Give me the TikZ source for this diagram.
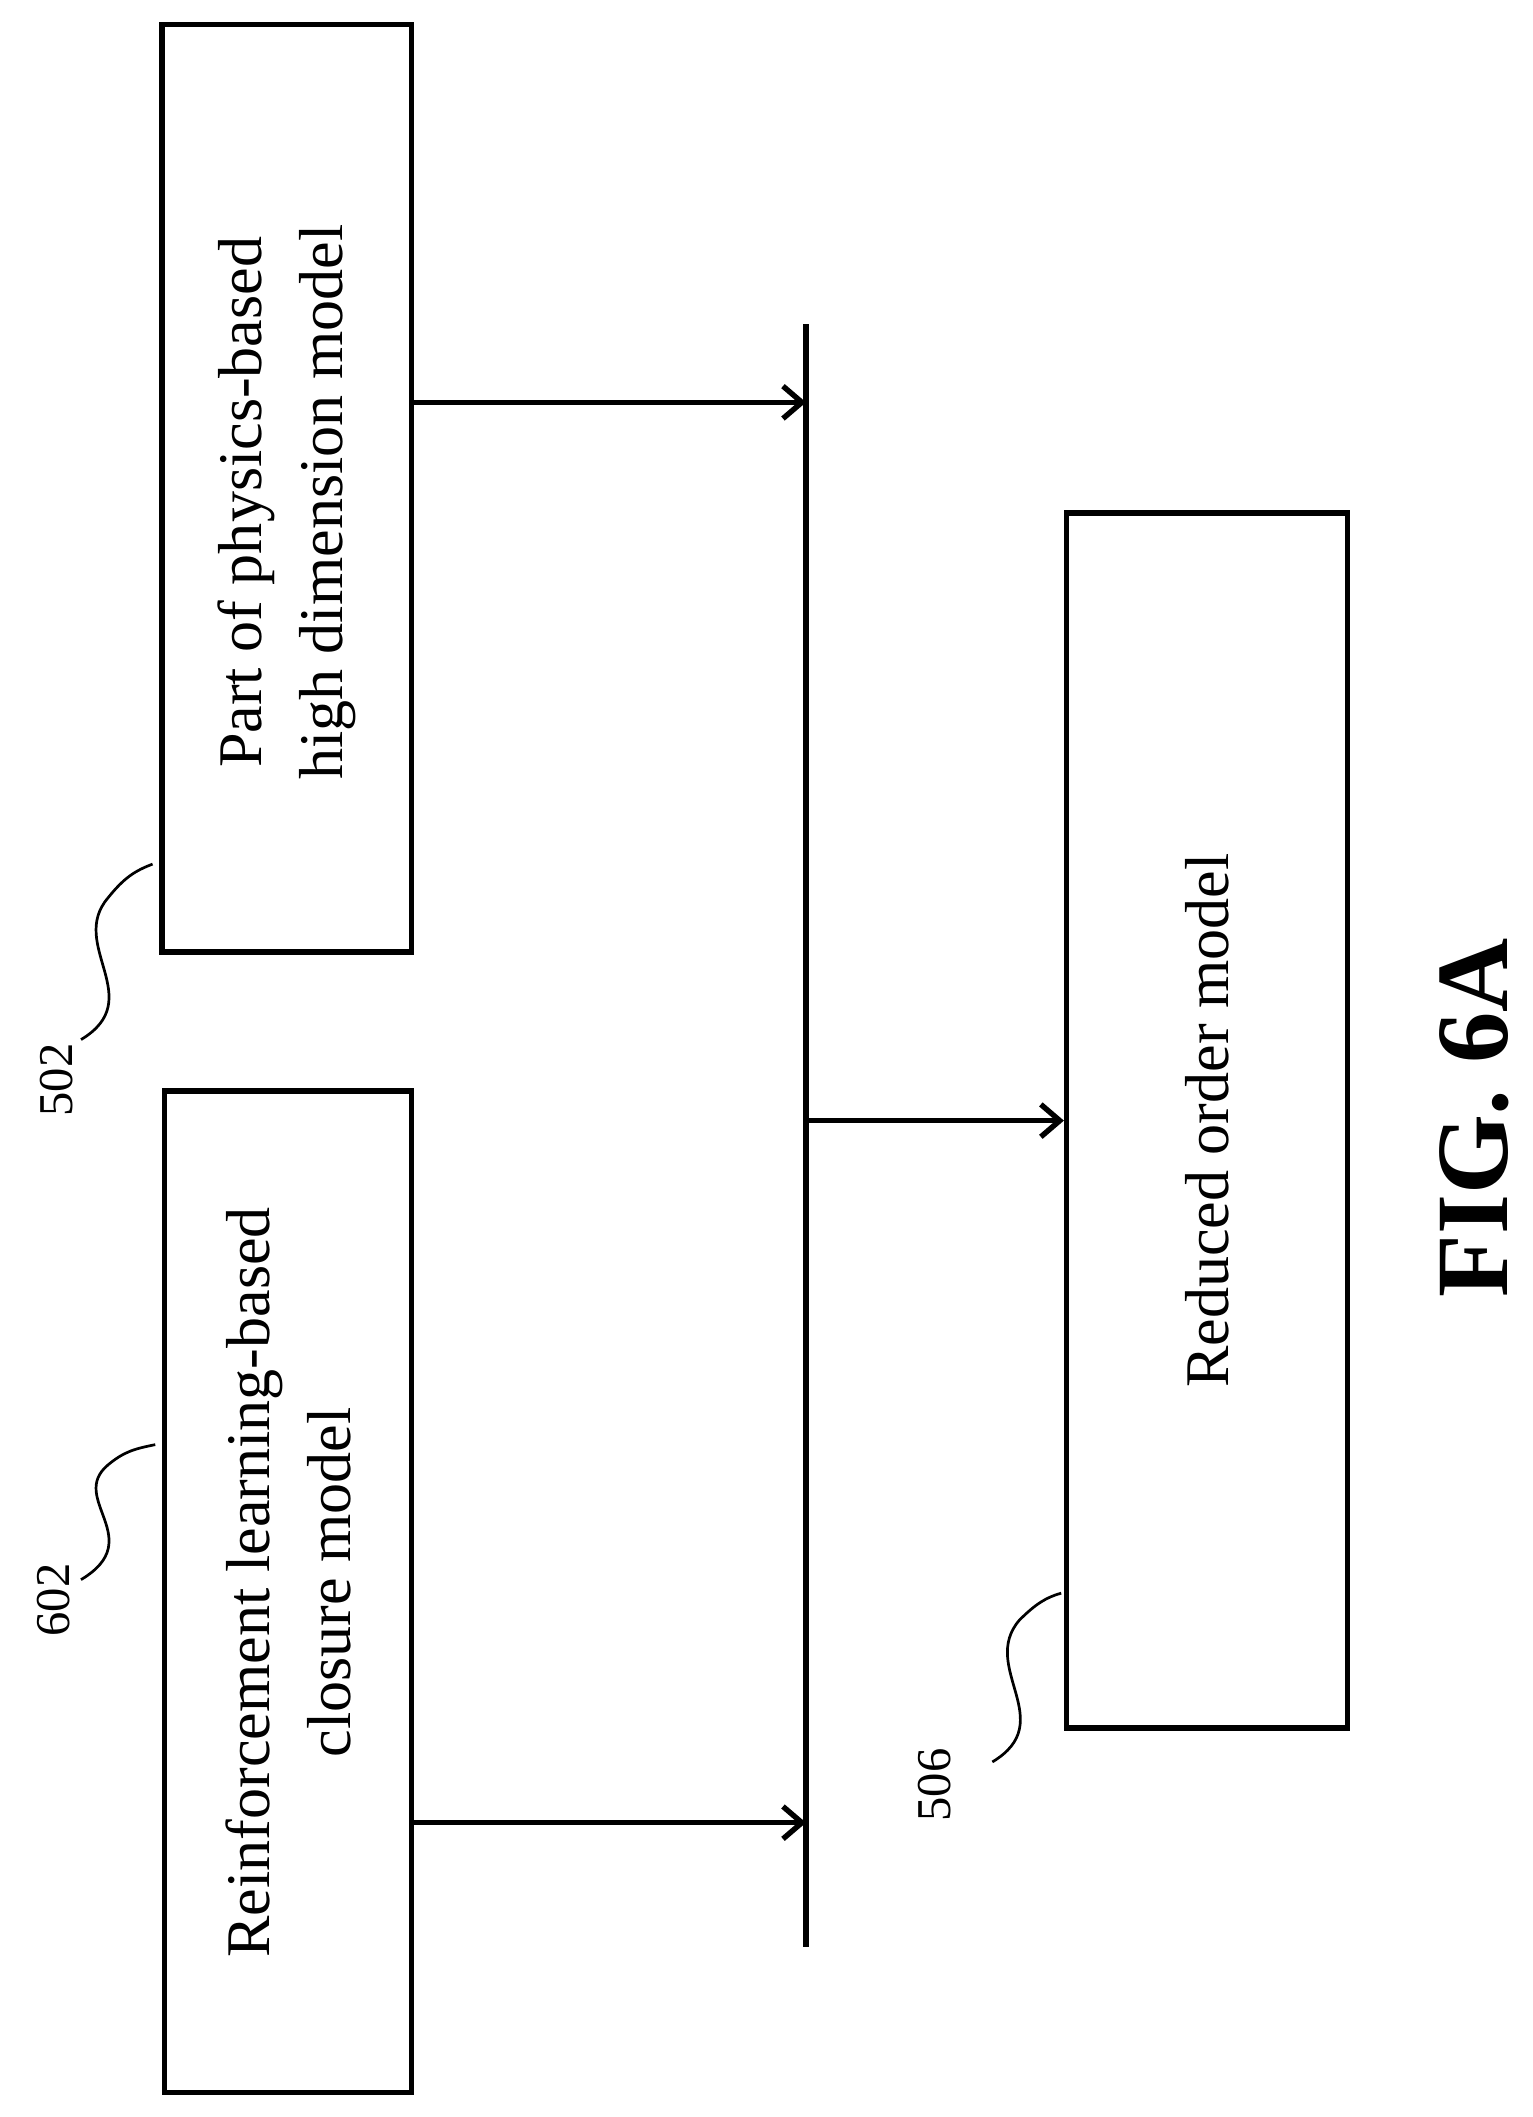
\documentclass[tikz,border=0pt]{standalone}
\usepackage{fontspec}
\setmainfont{Liberation Serif}
\usetikzlibrary{arrows.meta}
\begin{document}
\begin{tikzpicture}[x=0.5pt,y=-0.5pt,
  box/.style={draw,line width=2pt,inner sep=0pt},
  lblb/.style={rotate=90,align=center,font=\fontsize{23}{30}\selectfont},
  num/.style={rotate=90,font=\fontsize{18}{22}\selectfont},
  arr/.style={line width=2pt,-{Straight Barb[length=7pt,width=12pt,line width=2pt]}},
  sq/.style={line width=1pt}]
\useasboundingbox (0,0) rectangle (1135,1568);
\node[box,minimum width=92.5pt,minimum height=343.5pt] (b502) at (212.5,361.5) {};
\node[lblb] (t502) at (212.5,372) {Part of physics-based\\high dimension model};
\node[box,minimum width=91.5pt,minimum height=371pt] (b602) at (213.5,1179) {};
\node[lblb] (t602) at (213.5,1172) {Reinforcement learning-based\\closure model};
\node[box,minimum width=104pt,minimum height=450pt] (b506) at (894,830) {};
\node[lblb] (t506) at (894,830) {Reduced order model};
\coordinate (bt) at (597,240);
\coordinate (bb) at (597,1442);
\draw[line width=2.5pt] (bt) -- (bb);
\coordinate (a1) at (597,298);
\coordinate (a2) at (597,1350);
\coordinate (a3) at (597,830);
\draw[arr] (b502.east |- a1) -- (a1);
\draw[arr] (b602.east |- a2) -- (a2);
\draw[arr] (a3) -- (b506.west |- a3);
\node[num] (n502) at (42,800) {502};
\node[num] (n602) at (40,1185) {602};
\node[num] (n506) at (692,1322) {506};
\node[rotate=90,font=\bfseries\fontsize{38}{46}\selectfont] (fig) at (1092,828) {FIG. 6A};
\draw[sq] (60,770) .. controls (110,740) and (50,700) .. (80,665) .. controls (92,650) and (100,645) .. (113,640);
\draw[sq] (60,1170) .. controls (110,1140) and (50,1110) .. (80,1085) .. controls (92,1075) and (100,1073) .. (115,1070);
\draw[sq] (735,1305) .. controls (785,1275) and (725,1235) .. (755,1200) .. controls (767,1188) and (775,1183) .. (786,1180);
\end{tikzpicture}
\end{document}
